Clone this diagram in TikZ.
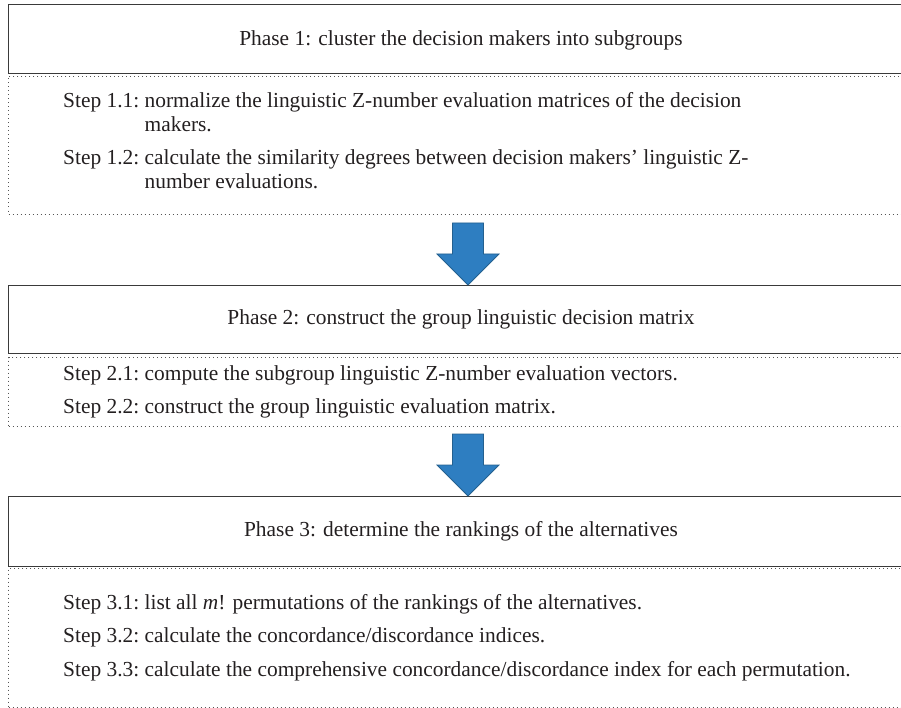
\documentclass[tikz,border=0pt]{standalone}
\usepackage{fontspec}
\setmainfont{Liberation Serif}
\usepackage{tikz}
\usepackage{xcolor}
\usetikzlibrary{calc}
\definecolor{inkgray}{HTML}{231F20}
\definecolor{boxline}{HTML}{3A3A3A}
\definecolor{dotline}{HTML}{555555}
\definecolor{arrowfill}{HTML}{2E7EC1}
\definecolor{arrowline}{HTML}{24608F}

\begin{document}
\begin{tikzpicture}[x=1pt,y=-1pt,
  every node/.style={font=\fontsize{21.4pt}{25pt}\selectfont,text=inkgray},
  phasebox/.style={draw=boxline,line width=1.3pt,anchor=north west,inner sep=0pt,
    minimum width=960pt},
  phasetext/.style={inner sep=0pt},
  stepbox/.style={draw=dotline,line width=1pt,dash pattern=on 1pt off 3pt,
    anchor=north west,inner sep=0pt,minimum width=960pt},
  steplabel/.style={anchor=base west,inner sep=0pt},
  steptext/.style={anchor=base west,inner sep=0pt},
  bigarrow/.style={fill=arrowfill,draw=arrowline,line width=0.8pt,line join=miter}]
  \useasboundingbox (0,0) rectangle (901,708);
  \clip (0,0) rectangle (901,708);

  \node[phasebox,minimum height=69pt] (ph1) at (8,4) {};
  \node[phasetext] (p1) at ($(ph1.west)+(453,1)$)
    {Phase 1: cluster the decision makers into subgroups};
  \node[stepbox,minimum height=138pt] (st1) at (8,76) {};
  \node[steplabel] (s11) at ($(st1.north west)+(55,32)$) {Step 1.1:};
  \node[steptext] (s11a) at ($(s11.base east)+(5,0)$)
    {normalize the linguistic Z-number evaluation matrices of the decision};
  \node[steptext] (s11b) at ($(s11a.base west)+(0,24)$) {makers.};
  \node[steplabel] (s12) at ($(st1.north west)+(55,89)$) {Step 1.2:};
  \node[steptext] (s12a) at ($(s12.base east)+(5,0)$)
    {calculate the similarity degrees between decision makers’ linguistic Z-};
  \node[steptext] (s12b) at ($(s12a.base west)+(0,24)$) {number evaluations.};

  \node[phasebox,minimum height=68pt] (ph2) at (8,285) {};
  \node[phasetext] (p2) at ($(ph2.west)+(453,0)$)
    {Phase 2: construct the group linguistic decision matrix};
  \node[stepbox,minimum height=69pt] (st2) at (8,357) {};
  \node[steplabel] (s21) at ($(st2.north west)+(55,23)$) {Step 2.1:};
  \node[steptext] (s21a) at ($(s21.base east)+(5,0)$)
    {compute the subgroup linguistic Z-number evaluation vectors.};
  \node[steplabel] (s22) at ($(st2.north west)+(55,56)$) {Step 2.2:};
  \node[steptext] (s22a) at ($(s22.base east)+(5,0)$)
    {construct the group linguistic evaluation matrix.};

  \node[phasebox,minimum height=70pt] (ph3) at (8,496) {};
  \node[phasetext] (p3) at ($(ph3.west)+(453,0)$)
    {Phase 3: determine the rankings of the alternatives};
  \node[stepbox,minimum height=139pt] (st3) at (8,568) {};
  \node[steplabel] (s31) at ($(st3.north west)+(55,41)$) {Step 3.1:};
  \node[steptext] (s31a) at ($(s31.base east)+(5,0)$)
    {list all \textit{m}! permutations of the rankings of the alternatives.};
  \node[steplabel] (s32) at ($(st3.north west)+(55,74)$) {Step 3.2:};
  \node[steptext] (s32a) at ($(s32.base east)+(5,0)$)
    {calculate the concordance/discordance indices.};
  \node[steplabel] (s33) at ($(st3.north west)+(55,108)$) {Step 3.3:};
  \node[steptext] (s33a) at ($(s33.base east)+(5,0)$)
    {calculate the comprehensive concordance/discordance index for each permutation.};

  \draw[bigarrow] let \p1=($(st1.south west)+(0,8)$), \p2=($(ph2.north west)+(460,0)$) in
    (\x2-15.5pt,\y1) -- (\x2+15.5pt,\y1) -- (\x2+15.5pt,\y2+31pt) -- (\x2+31pt,\y2+31pt)
    -- (\x2,\y2) -- (\x2-31pt,\y2+31pt) -- (\x2-15.5pt,\y2+31pt) -- cycle;
  \draw[bigarrow] let \p1=($(st2.south west)+(0,7)$), \p2=($(ph3.north west)+(460,0)$) in
    (\x2-15.5pt,\y1) -- (\x2+15.5pt,\y1) -- (\x2+15.5pt,\y2+31pt) -- (\x2+31pt,\y2+31pt)
    -- (\x2,\y2) -- (\x2-31pt,\y2+31pt) -- (\x2-15.5pt,\y2+31pt) -- cycle;
\end{tikzpicture}
\end{document}
